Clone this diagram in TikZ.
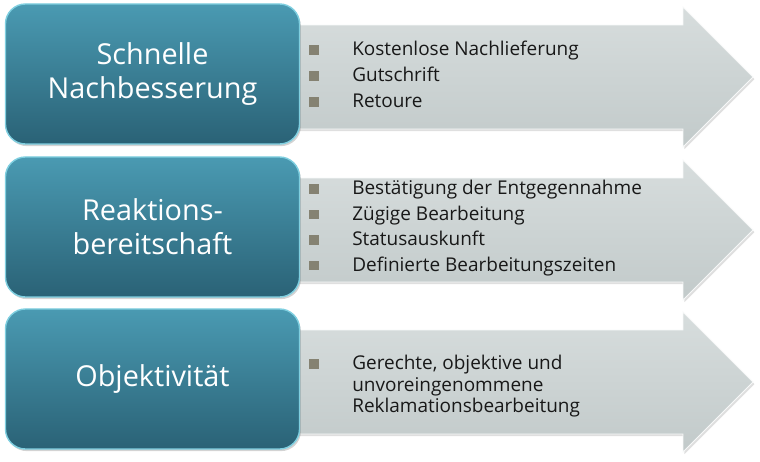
\documentclass[tikz,border=0pt]{standalone}
\usepackage{fontspec}
\setmainfont{Open Sans}
\usetikzlibrary{shapes,positioning,shadows}
\definecolor{boxtop}{HTML}{4A9AB2}
\definecolor{boxbot}{HTML}{2A6276}
\definecolor{boxrim}{HTML}{7FCFE0}
\definecolor{arrtop}{HTML}{D7DDDD}
\definecolor{arrbot}{HTML}{C2CACA}
\definecolor{bulletgray}{HTML}{858272}
\definecolor{textdark}{HTML}{181818}

\tikzset{
  catbox/.style={draw=boxrim, line width=1pt, rounded corners=0.5cm, top color=boxtop, bottom color=boxbot,
    minimum width=7.35cm, minimum height=3.5cm, text=white, align=center,
    font=\fontsize{20.5}{24}\selectfont,
    drop shadow={shadow xshift=1pt, shadow yshift=-1.5pt, opacity=0.35}},
  arrowbody/.style={draw=white!80!arrtop, line width=0.6pt, top color=arrtop, bottom color=arrbot,
    drop shadow={shadow xshift=1pt, shadow yshift=-1.5pt, opacity=0.25}},
  item/.style={anchor=west, inner sep=0pt, text height=10pt, text depth=2pt, text=textdark,
    font=\fontsize{13.5}{15}\selectfont},
  bulletsq/.style={fill=bulletgray, minimum size=6.8pt, inner sep=0pt}
}

\begin{document}
\begin{tikzpicture}[x=0.025cm, y=-0.025cm]
\useasboundingbox (0,0) rectangle (760,461);

% arrows behind the boxes
\foreach \c in {77,230,382}
  \path[arrowbody] (285,\c-52) -- (683,\c-52) -- (683,\c-70) -- (753,\c) -- (683,\c+70) -- (683,\c+52) -- (285,\c+52) -- cycle;

% category boxes
\foreach \n/\c/\lbl in {sn/77/{Schnelle\\Nachbesserung}, re/230/{Reaktions-\\bereitschaft}, ob/382/{Objektivität}}
  \node[catbox] (\n) at (152.5,\c-3) {\lbl};

% first row
\foreach \t [count=\k] in {Kostenlose Nachlieferung, Gutschrift, Retoure} {
  \node[bulletsq] (snb\k) at (314,24+26*\k) {};
  \node[item] (sn\k) at (352,24+26*\k) {\t};
}

% second row
\foreach \t [count=\k] in {Bestätigung der Entgegennahme, Zügige Bearbeitung, Statusauskunft, Definierte Bearbeitungszeiten} {
  \node[bulletsq] (reb\k) at (314,163.5+25.5*\k) {};
  \node[item] (re\k) at (352,163.5+25.5*\k) {\t};
}

% third row
\node[bulletsq] (obb1) at (314,364) {};
\node[item] (ob1) at (352,364) {Gerechte, objektive und};
\node[item] (ob2) at (352,385.5) {unvoreingenommene};
\node[item] (ob3) at (352,407) {Reklamationsbearbeitung};
\end{tikzpicture}
\end{document}
